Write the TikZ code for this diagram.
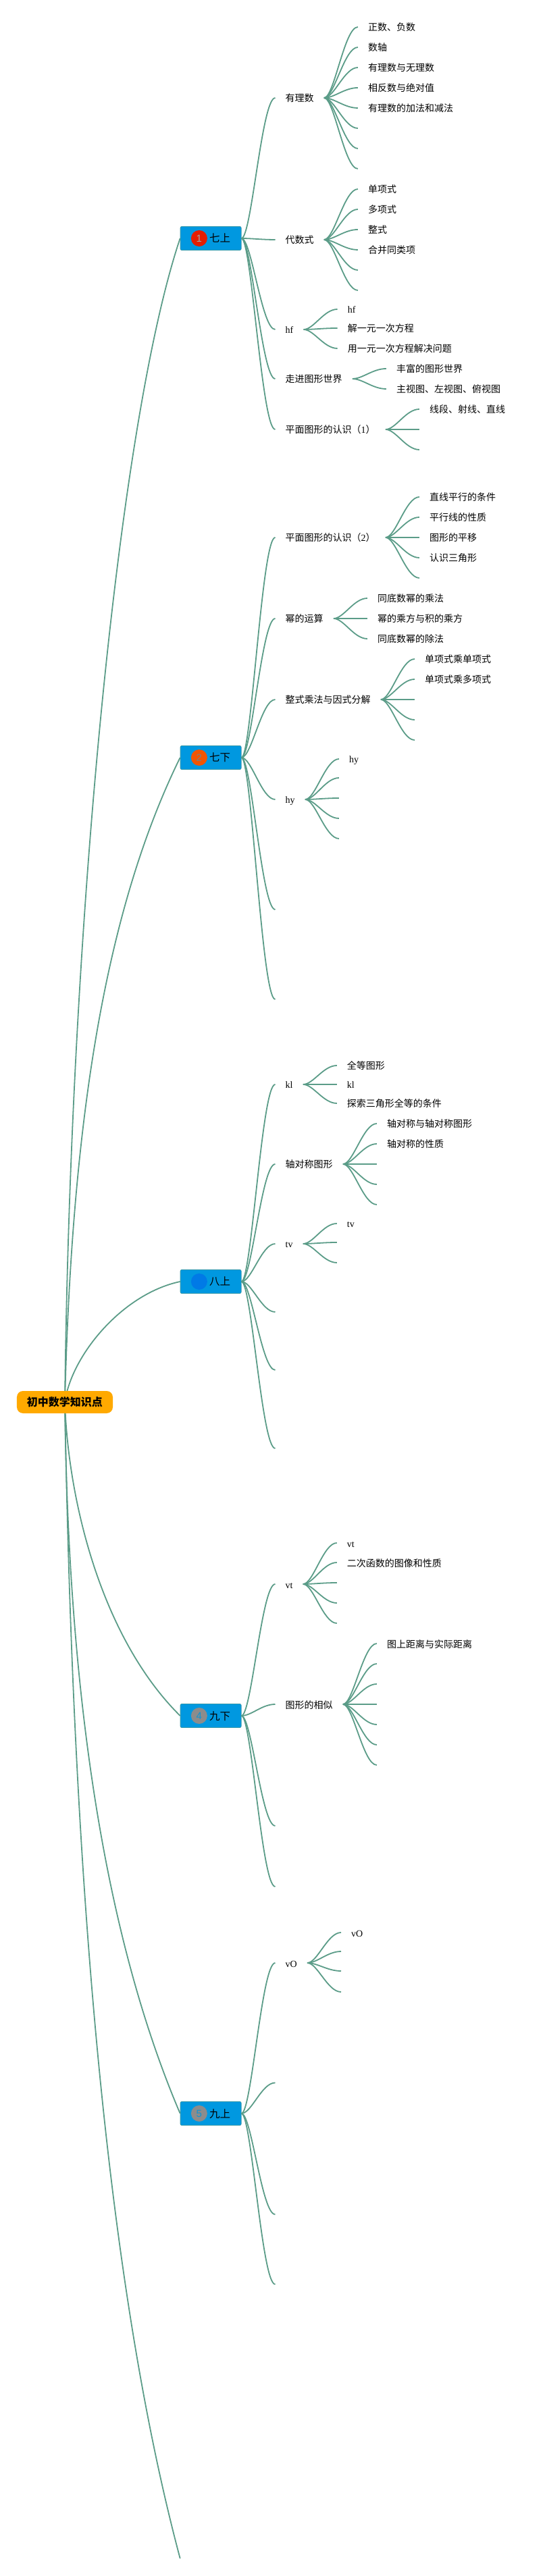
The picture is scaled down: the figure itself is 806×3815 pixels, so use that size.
\documentclass[tikz,border=0pt]{standalone}
\usepackage{xcolor}
\usepackage{fontspec}
\setmainfont{Noto Sans CJK SC}
\newfontfamily\latin{Liberation Serif}
\newfontfamily\digit{Liberation Sans}
\usepackage{tikz}
\usetikzlibrary{positioning}
\usetikzlibrary{backgrounds}
\definecolor{linecol}{HTML}{5B9C88}
\definecolor{boxcol}{HTML}{0098E0}
\definecolor{rootcol}{HTML}{FFA900}
\tikzset{
	root/.style={fill=rootcol,rounded corners=9pt,minimum width=142pt,minimum height=33pt,inner sep=0pt,font=\fontsize{16}{18}\selectfont\bfseries},
	grade/.style={fill=boxcol,draw=linecol!60!boxcol,line width=0.8pt,rounded corners=2pt,minimum width=90pt,minimum height=35pt,inner sep=0pt,text height=13pt,text depth=1pt,font=\fontsize{15.5}{18}\selectfont},
	badge/.style={circle,minimum size=24pt,inner sep=0pt,font=\digit\fontsize{15}{18}\selectfont},
	topic/.style={inner xsep=15pt,inner ysep=0pt,text height=13pt,text depth=1pt,font=\fontsize{14}{16}\selectfont},
	line/.style={draw=linecol,line width=1.8pt},
	link/.style={line,to path={.. controls +(15,0) and +(-20,0) .. (\tikztotarget)}}
}

\begin{document}
\begin{tikzpicture}[x=1pt,y=1pt]
	\useasboundingbox (-96,2076.5) rectangle (710,-1738.5);

	\node[root] (root) at (0,0) {初中数学知识点};

	\node[grade] (g1) [right = 99.5pt of root, yshift=1723.5pt] {\hspace*{27pt}七上};
	\node[grade] (g2) [right = 99.5pt of root, yshift=954.5pt] {\hspace*{27pt}七下};
	\node[grade] (g3) [right = 99.5pt of root, yshift=178.5pt] {\hspace*{27pt}八上};
	\node[grade] (g4) [right = 99.5pt of root, yshift=-464.5pt] {\hspace*{27pt}九下};
	\node[grade] (g5) [right = 99.5pt of root, yshift=-1053.5pt] {\hspace*{27pt}九上};
	\coordinate[right = 99.5pt of root, yshift=-1712.5pt] (g6);

	\node[badge,fill=red!75!orange!90!black,text=gray!70] (b1) [right = 16pt of g1.west] {1};
	\node[badge,fill=orange!70!red!95!black,text=gray] (b2) [right = 16pt of g2.west] {2};
	\node[badge,fill=blue!20!boxcol] (b3) [right = 16pt of g3.west] {};
	\node[badge,fill=gray!90,text=boxcol!85!gray] (b4) [right = 16pt of g4.west] {4};
	\node[badge,fill=gray!90,text=boxcol!85!gray] (b5) [right = 16pt of g5.west] {5};

	% 七上
	\node[topic] (t11) [right = 50pt of g1, yshift=208pt] {有理数};
	\node[topic] (t12) [right = 50pt of g1, yshift=-2pt] {代数式};
	\node[topic] (t13) [right = 50pt of g1, yshift=-135pt] {\latin hf};
	\node[topic] (t14) [right = 50pt of g1, yshift=-208pt] {走进图形世界};
	\node[topic] (t15) [right = 50pt of g1, yshift=-283pt] {平面图形的认识（{\latin 1}）};

	\node[topic] (l111) [right = 50pt of t11, yshift=105pt] {正数、负数};
	\node[topic] (l112) [right = 50pt of t11, yshift=75pt] {数轴};
	\node[topic] (l113) [right = 50pt of t11, yshift=45pt] {有理数与无理数};
	\node[topic] (l114) [right = 50pt of t11, yshift=15pt] {相反数与绝对值};
	\node[topic] (l115) [right = 50pt of t11, yshift=-15pt] {有理数的加法和减法};
	\coordinate[right = 50pt of t11, yshift=-45pt] (l116);
	\coordinate[right = 50pt of t11, yshift=-75pt] (l117);
	\coordinate[right = 50pt of t11, yshift=-105pt] (l118);

	\node[topic] (l121) [right = 50pt of t12, yshift=75pt] {单项式};
	\node[topic] (l122) [right = 50pt of t12, yshift=45pt] {多项式};
	\node[topic] (l123) [right = 50pt of t12, yshift=15pt] {整式};
	\node[topic] (l124) [right = 50pt of t12, yshift=-15pt] {合并同类项};
	\coordinate[right = 50pt of t12, yshift=-45pt] (l125);
	\coordinate[right = 50pt of t12, yshift=-75pt] (l126);

	\node[topic] (l131) [right = 50pt of t13, yshift=30pt] {\latin hf};
	\node[topic] (l132) [right = 50pt of t13, yshift=2pt] {解一元一次方程};
	\node[topic] (l133) [right = 50pt of t13, yshift=-28pt] {用一元一次方程解决问题};

	\node[topic] (l141) [right = 50pt of t14, yshift=15pt] {丰富的图形世界};
	\node[topic] (l142) [right = 50pt of t14, yshift=-15pt] {主视图、左视图、俯视图};

	\node[topic] (l151) [right = 50pt of t15, yshift=30pt] {线段、射线、直线};
	\coordinate[right = 50pt of t15] (l152);
	\coordinate[right = 50pt of t15, yshift=-30pt] (l153);

	% 七下
	\node[topic] (t21) [right = 50pt of g2, yshift=326pt] {平面图形的认识（{\latin 2}）};
	\node[topic] (t22) [right = 50pt of g2, yshift=206pt] {幂的运算};
	\node[topic] (t23) [right = 50pt of g2, yshift=86pt] {整式乘法与因式分解};
	\node[topic] (t24) [right = 50pt of g2, yshift=-62pt] {\latin hy};
	\coordinate[right = 50pt of g2, yshift=-225pt] (t25);
	\coordinate[right = 50pt of g2, yshift=-358pt] (t26);

	\node[topic] (l211) [right = 50pt of t21, yshift=60pt] {直线平行的条件};
	\node[topic] (l212) [right = 50pt of t21, yshift=30pt] {平行线的性质};
	\node[topic] (l213) [right = 50pt of t21] {图形的平移};
	\node[topic] (l214) [right = 50pt of t21, yshift=-30pt] {认识三角形};
	\coordinate[right = 50pt of t21, yshift=-60pt] (l215);

	\node[topic] (l221) [right = 50pt of t22, yshift=30pt] {同底数幂的乘法};
	\node[topic] (l222) [right = 50pt of t22] {幂的乘方与积的乘方};
	\node[topic] (l223) [right = 50pt of t22, yshift=-30pt] {同底数幂的除法};

	\node[topic] (l231) [right = 50pt of t23, yshift=60pt] {单项式乘单项式};
	\node[topic] (l232) [right = 50pt of t23, yshift=30pt] {单项式乘多项式};
	\coordinate[right = 50pt of t23] (l233);
	\coordinate[right = 50pt of t23, yshift=-30pt] (l234);
	\coordinate[right = 50pt of t23, yshift=-60pt] (l235);

	\node[topic] (l241) [right = 50pt of t24, yshift=60pt] {\latin hy};
	\coordinate[right = 50pt of t24, yshift=32pt] (l242);
	\coordinate[right = 50pt of t24, yshift=2pt] (l243);
	\coordinate[right = 50pt of t24, yshift=-28pt] (l244);
	\coordinate[right = 50pt of t24, yshift=-58pt] (l245);

	% 八上
	\node[topic] (t31) [right = 50pt of g3, yshift=292pt] {\latin kl};
	\node[topic] (t32) [right = 50pt of g3, yshift=174pt] {轴对称图形};
	\node[topic] (t33) [right = 50pt of g3, yshift=56pt] {\latin tv};
	\coordinate[right = 50pt of g3, yshift=-45pt] (t34);
	\coordinate[right = 50pt of g3, yshift=-131pt] (t35);
	\coordinate[right = 50pt of g3, yshift=-247pt] (t36);

	\node[topic] (l311) [right = 50pt of t31, yshift=28pt] {全等图形};
	\node[topic] (l312) [right = 50pt of t31] {\latin kl};
	\node[topic] (l313) [right = 50pt of t31, yshift=-28pt] {探索三角形全等的条件};

	\node[topic] (l321) [right = 50pt of t32, yshift=60pt] {轴对称与轴对称图形};
	\node[topic] (l322) [right = 50pt of t32, yshift=30pt] {轴对称的性质};
	\coordinate[right = 50pt of t32] (l323);
	\coordinate[right = 50pt of t32, yshift=-30pt] (l324);
	\coordinate[right = 50pt of t32, yshift=-60pt] (l325);

	\node[topic] (l331) [right = 50pt of t33, yshift=30pt] {\latin tv};
	\coordinate[right = 50pt of t33, yshift=2pt] (l332);
	\coordinate[right = 50pt of t33, yshift=-28pt] (l333);

	% 九下
	\node[topic] (t41) [right = 50pt of g4, yshift=195pt] {\latin vt};
	\node[topic] (t42) [right = 50pt of g4, yshift=17pt] {图形的相似};
	\coordinate[right = 50pt of g4, yshift=-163pt] (t43);
	\coordinate[right = 50pt of g4, yshift=-253pt] (t44);

	\node[topic] (l411) [right = 50pt of t41, yshift=61pt] {\latin vt};
	\node[topic] (l412) [right = 50pt of t41, yshift=32pt] {二次函数的图像和性质};
	\coordinate[right = 50pt of t41, yshift=2pt] (l413);
	\coordinate[right = 50pt of t41, yshift=-28pt] (l414);
	\coordinate[right = 50pt of t41, yshift=-58pt] (l415);

	\node[topic] (l421) [right = 50pt of t42, yshift=90pt] {图上距离与实际距离};
	\coordinate[right = 50pt of t42, yshift=60pt] (l422);
	\coordinate[right = 50pt of t42, yshift=30pt] (l423);
	\coordinate[right = 50pt of t42] (l424);
	\coordinate[right = 50pt of t42, yshift=-30pt] (l425);
	\coordinate[right = 50pt of t42, yshift=-60pt] (l426);
	\coordinate[right = 50pt of t42, yshift=-90pt] (l427);

	% 九上
	\node[topic] (t51) [right = 50pt of g5, yshift=223pt] {\latin vO};
	\coordinate[right = 50pt of g5, yshift=45.5pt] (t52);
	\coordinate[right = 50pt of g5, yshift=-149.5pt] (t53);
	\coordinate[right = 50pt of g5, yshift=-253pt] (t54);

	\node[topic] (l511) [right = 50pt of t51, yshift=45pt] {\latin vO};
	\coordinate[right = 50pt of t51, yshift=17pt] (l512);
	\coordinate[right = 50pt of t51, yshift=-12pt] (l513);
	\coordinate[right = 50pt of t51, yshift=-43pt] (l514);

	\begin{scope}[on background layer]
	\draw[line] (root.center) .. controls +(8,700) and +(-92,-274) .. (g1.west);
	\draw[line] (root.center) .. controls +(10,400) and +(-115,-234) .. (g2.west);
	\draw[line] (root.center) .. controls +(10,70) and +(-85,-18) .. (g3.west);
	\draw[line] (root.center) .. controls +(5,-150) and +(-115,114) .. (g4.west);
	\draw[line] (root.center) .. controls +(5,-450) and +(-108,253) .. (g5.west);
	\draw[line] (root.center) .. controls +(12,-700) and +(-110,412) .. (g6);
	\end{scope}

	\draw[link] (g1.east) to (t11.west);
	\draw[link] (g1.east) to (t12.west);
	\draw[link] (g1.east) to (t13.west);
	\draw[link] (g1.east) to (t14.west);
	\draw[link] (g1.east) to (t15.west);
	\draw[link] (t11.east) to (l111.west);
	\draw[link] (t11.east) to (l112.west);
	\draw[link] (t11.east) to (l113.west);
	\draw[link] (t11.east) to (l114.west);
	\draw[link] (t11.east) to (l115.west);
	\draw[link] (t11.east) to (l116);
	\draw[link] (t11.east) to (l117);
	\draw[link] (t11.east) to (l118);
	\draw[link] (t12.east) to (l121.west);
	\draw[link] (t12.east) to (l122.west);
	\draw[link] (t12.east) to (l123.west);
	\draw[link] (t12.east) to (l124.west);
	\draw[link] (t12.east) to (l125);
	\draw[link] (t12.east) to (l126);
	\draw[link] (t13.east) to (l131.west);
	\draw[link] (t13.east) to (l132.west);
	\draw[link] (t13.east) to (l133.west);
	\draw[link] (t14.east) to (l141.west);
	\draw[link] (t14.east) to (l142.west);
	\draw[link] (t15.east) to (l151.west);
	\draw[link] (t15.east) to (l152);
	\draw[link] (t15.east) to (l153);

	\draw[link] (g2.east) to (t21.west);
	\draw[link] (g2.east) to (t22.west);
	\draw[link] (g2.east) to (t23.west);
	\draw[link] (g2.east) to (t24.west);
	\draw[link] (g2.east) to (t25);
	\draw[link] (g2.east) to (t26);
	\draw[link] (t21.east) to (l211.west);
	\draw[link] (t21.east) to (l212.west);
	\draw[link] (t21.east) to (l213.west);
	\draw[link] (t21.east) to (l214.west);
	\draw[link] (t21.east) to (l215);
	\draw[link] (t22.east) to (l221.west);
	\draw[link] (t22.east) to (l222.west);
	\draw[link] (t22.east) to (l223.west);
	\draw[link] (t23.east) to (l231.west);
	\draw[link] (t23.east) to (l232.west);
	\draw[link] (t23.east) to (l233);
	\draw[link] (t23.east) to (l234);
	\draw[link] (t23.east) to (l235);
	\draw[link] (t24.east) to (l241.west);
	\draw[link] (t24.east) to (l242);
	\draw[link] (t24.east) to (l243);
	\draw[link] (t24.east) to (l244);
	\draw[link] (t24.east) to (l245);

	\draw[link] (g3.east) to (t31.west);
	\draw[link] (g3.east) to (t32.west);
	\draw[link] (g3.east) to (t33.west);
	\draw[link] (g3.east) to (t34);
	\draw[link] (g3.east) to (t35);
	\draw[link] (g3.east) to (t36);
	\draw[link] (t31.east) to (l311.west);
	\draw[link] (t31.east) to (l312.west);
	\draw[link] (t31.east) to (l313.west);
	\draw[link] (t32.east) to (l321.west);
	\draw[link] (t32.east) to (l322.west);
	\draw[link] (t32.east) to (l323);
	\draw[link] (t32.east) to (l324);
	\draw[link] (t32.east) to (l325);
	\draw[link] (t33.east) to (l331.west);
	\draw[link] (t33.east) to (l332);
	\draw[link] (t33.east) to (l333);

	\draw[link] (g4.east) to (t41.west);
	\draw[link] (g4.east) to (t42.west);
	\draw[link] (g4.east) to (t43);
	\draw[link] (g4.east) to (t44);
	\draw[link] (t41.east) to (l411.west);
	\draw[link] (t41.east) to (l412.west);
	\draw[link] (t41.east) to (l413);
	\draw[link] (t41.east) to (l414);
	\draw[link] (t41.east) to (l415);
	\draw[link] (t42.east) to (l421.west);
	\draw[link] (t42.east) to (l422);
	\draw[link] (t42.east) to (l423);
	\draw[link] (t42.east) to (l424);
	\draw[link] (t42.east) to (l425);
	\draw[link] (t42.east) to (l426);
	\draw[link] (t42.east) to (l427);

	\draw[link] (g5.east) to (t51.west);
	\draw[link] (g5.east) to (t52);
	\draw[link] (g5.east) to (t53);
	\draw[link] (g5.east) to (t54);
	\draw[link] (t51.east) to (l511.west);
	\draw[link] (t51.east) to (l512);
	\draw[link] (t51.east) to (l513);
	\draw[link] (t51.east) to (l514);
\end{tikzpicture}
\end{document}
